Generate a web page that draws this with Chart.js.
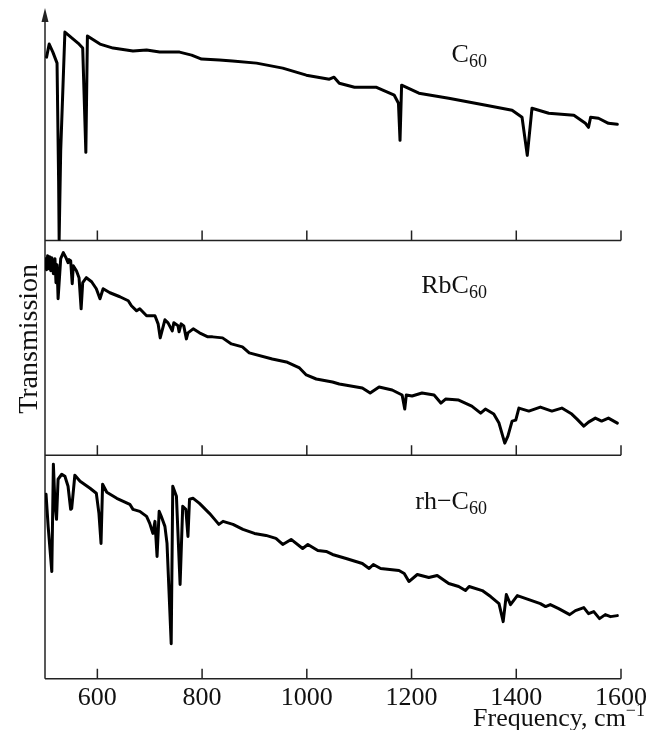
<!DOCTYPE html>
<html>
<head>
<meta charset="utf-8">
<script src="https://cdn.jsdelivr.net/npm/chart.js@4/dist/chart.umd.min.js"></script>
<style>
  html, body { margin: 0; padding: 0; background: #fff; }
  #wrap { width: 647px; height: 730px; }
</style>
</head>
<body>
<div id="wrap"><canvas id="ir" width="647" height="730"></canvas></div>
<script>
// Frequency axis ticks (cm^-1)
const xTicks = [600, 800, 1000, 1200, 1400, 1600];

// IR transmission spectra, arbitrary units above each panel's baseline
const c60Freq = [503, 508, 515, 523, 526, 527, 530, 538, 563, 572, 578, 581, 605, 630, 668, 694, 719, 757, 780, 799, 833, 858, 904, 954, 999, 1043, 1052, 1062, 1091, 1132, 1167, 1175, 1178, 1181, 1214, 1271, 1342, 1392, 1411, 1421, 1430, 1462, 1510, 1532, 1538, 1542, 1557, 1576, 1593];
const c60Trans = [183, 196, 188, 177, 60, 1, 90, 208, 197, 192, 88, 204, 196, 192, 189, 190, 188, 188, 185, 181, 180, 179, 177, 172, 165, 161, 163, 157, 153, 153, 145, 137, 100, 155, 147, 142, 135, 130, 123, 85, 132, 127, 125, 117, 113, 123, 122, 117, 116];

const rbFreq = [501, 503, 505, 507, 509, 511, 513, 516, 519, 521, 523, 525, 530, 535, 540, 544, 546, 549, 552, 554, 560, 565, 569, 572, 579, 589, 598, 605, 611, 624, 643, 659, 665, 675, 681, 694, 710, 716, 720, 729, 735, 743, 746, 754, 756, 760, 765, 770, 773, 783, 795, 811, 820, 839, 856, 877, 890, 934, 961, 986, 999, 1018, 1049, 1062, 1106, 1121, 1138, 1163, 1182, 1187, 1190, 1201, 1220, 1243, 1256, 1265, 1290, 1315, 1332, 1341, 1357, 1367, 1378, 1384, 1392, 1399, 1405, 1424, 1446, 1468, 1487, 1506, 1516, 1529, 1538, 1551, 1563, 1576, 1593];
const rbTrans = [196, 185, 199, 186, 198, 184, 197, 181, 196, 172, 190, 156, 196, 202, 197, 192, 195, 194, 171, 189, 184, 177, 146, 172, 177, 173, 166, 156, 166, 162, 158, 154, 149, 144, 146, 139, 139, 131, 117, 135, 132, 124, 132, 129, 123, 131, 129, 116, 122, 126, 122, 118, 118, 117, 111, 108, 102, 96, 93, 87, 80, 76, 73, 71, 67, 62, 68, 65, 60, 46, 60, 59, 62, 60, 52, 56, 55, 49, 42, 46, 41, 32, 12, 19, 34, 35, 47, 44, 48, 44, 47, 41, 36, 29, 33, 37, 34, 37, 32];

const rhFreq = [502, 506, 513, 516, 519, 522, 525, 532, 538, 544, 549, 551, 557, 567, 586, 598, 603, 607, 610, 618, 637, 662, 668, 681, 694, 700, 706, 710, 714, 718, 722, 729, 733, 741, 744, 751, 758, 763, 769, 773, 776, 783, 795, 814, 824, 832, 840, 859, 878, 900, 922, 941, 954, 970, 992, 1002, 1021, 1037, 1049, 1075, 1106, 1119, 1127, 1141, 1176, 1186, 1195, 1211, 1233, 1249, 1271, 1290, 1303, 1310, 1335, 1351, 1367, 1375, 1381, 1389, 1402, 1424, 1446, 1456, 1465, 1481, 1502, 1513, 1529, 1538, 1548, 1559, 1570, 1580, 1593];
const rhTrans = [184, 152, 107, 214, 175, 159, 199, 204, 202, 192, 169, 170, 203, 197, 190, 185, 165, 135, 194, 186, 180, 174, 169, 167, 162, 155, 145, 157, 122, 167, 162, 152, 135, 35, 192, 182, 94, 172, 169, 142, 179, 180, 175, 165, 159, 154, 157, 154, 149, 145, 143, 140, 134, 139, 130, 134, 128, 127, 124, 120, 115, 110, 114, 110, 108, 105, 97, 104, 101, 103, 95, 92, 88, 92, 88, 82, 75, 57, 84, 74, 83, 79, 75, 72, 74, 70, 64, 68, 71, 65, 67, 60, 64, 62, 63];

// Sample names: main text + subscript
const sampleNames = [["C", "60"], ["RbC", "60"], ["rh\u2212C", "60"]];

const SERIF = '"Liberation Serif", "Times New Roman", serif';
const INK = '#111';

const pairs = (fx, fy) => fx.map((f, i) => ({ x: f, y: fy[i] }));

function subText(ctx, main, sub, xRight, yBase, size) {
  ctx.font = size + 'px ' + SERIF;
  const wm = ctx.measureText(main).width;
  ctx.font = Math.round(size * 0.7) + 'px ' + SERIF;
  const ws = ctx.measureText(sub).width;
  const x0 = xRight - wm - ws;
  ctx.font = size + 'px ' + SERIF;
  ctx.fillText(main, x0, yBase);
  ctx.font = Math.round(size * 0.7) + 'px ' + SERIF;
  ctx.fillText(sub, x0 + wm, yBase + 5);
}

const framePlugin = {
  id: 'frame',
  beforeDatasetsDraw(chart) {
    const ctx = chart.ctx;
    const x = chart.scales.x;
    const x0 = x.getPixelForValue(500);
    const x1 = x.getPixelForValue(1600);
    ctx.save();
    ctx.strokeStyle = '#222';
    ctx.fillStyle = '#222';
    ctx.lineWidth = 1.5;
    // panel baselines with inward ticks
    ['yTop', 'yMid', 'yBot'].forEach(id => {
      const yb = chart.scales[id].bottom;
      ctx.beginPath();
      ctx.moveTo(x0, yb);
      ctx.lineTo(x1, yb);
      xTicks.forEach(t => {
        const px = x.getPixelForValue(t);
        ctx.moveTo(px, yb);
        ctx.lineTo(px, yb - 10);
      });
      ctx.stroke();
    });
    // vertical axis with arrow head
    const yTopPx = chart.scales.yTop.top - 9;
    ctx.beginPath();
    ctx.moveTo(x0, chart.scales.yBot.bottom);
    ctx.lineTo(x0, yTopPx + 10);
    ctx.stroke();
    ctx.beginPath();
    ctx.moveTo(x0, yTopPx);
    ctx.lineTo(x0 - 3.5, yTopPx + 14);
    ctx.lineTo(x0 + 3.5, yTopPx + 14);
    ctx.closePath();
    ctx.fill();
    ctx.restore();
  },
  afterDraw(chart) {
    const ctx = chart.ctx;
    const x = chart.scales.x;
    ctx.save();
    ctx.fillStyle = INK;
    ctx.textAlign = 'left';
    ctx.textBaseline = 'alphabetic';
    // sample names, anchored in data coordinates of each panel
    const anchors = [['yTop', 178], ['yMid', 162], ['yBot', 169]];
    anchors.forEach(([id, v], i) => {
      const px = x.getPixelForValue(1344);
      const py = chart.scales[id].getPixelForValue(v);
      subText(ctx, sampleNames[i][0], sampleNames[i][1], px, py, 26);
    });
    // frequency axis title with superscript
    ctx.font = '18px ' + SERIF;
    const sup = '\u22121';
    const ws = ctx.measureText(sup).width;
    ctx.font = '26px ' + SERIF;
    const main = 'Frequency, cm';
    const wm = ctx.measureText(main).width;
    const right = 645;
    const base = 726;
    ctx.fillText(main, right - ws - wm, base);
    ctx.font = '18px ' + SERIF;
    ctx.fillText(sup, right - ws, base - 10);
    // vertical title
    ctx.translate(37, chart.scales.yMid.getPixelForValue(116));
    ctx.rotate(-Math.PI / 2);
    ctx.font = '28px ' + SERIF;
    ctx.textAlign = 'center';
    ctx.fillText('Transmission', 0, 0);
    ctx.restore();
  }
};

const lineStyle = {
  borderColor: '#000',
  borderWidth: 3,
  pointRadius: 0,
  tension: 0,
  borderJoinStyle: 'round',
  borderCapStyle: 'round',
  fill: false
};

new Chart(document.getElementById('ir'), {
  type: 'line',
  data: {
    datasets: [
      Object.assign({ label: 'C60', data: pairs(c60Freq, c60Trans), yAxisID: 'yTop' }, lineStyle),
      Object.assign({ label: 'RbC60', data: pairs(rbFreq, rbTrans), yAxisID: 'yMid' }, lineStyle),
      Object.assign({ label: 'rh-C60', data: pairs(rhFreq, rhTrans), yAxisID: 'yBot' }, lineStyle)
    ]
  },
  options: {
    responsive: false,
    devicePixelRatio: 1,
    animation: false,
    layout: { padding: { left: 45, right: 26, top: 17, bottom: 12 } },
    plugins: { legend: { display: false }, tooltip: { enabled: false } },
    scales: {
      x: {
        type: 'linear',
        min: 500,
        max: 1600,
        afterBuildTicks: s => { s.ticks = xTicks.map(v => ({ value: v })); },
        afterFit: s => { s.paddingLeft = 0; s.paddingRight = 0; },
        grid: { display: false, drawTicks: false },
        border: { display: false },
        ticks: {
          autoSkip: false,
          maxRotation: 0,
          padding: 4,
          color: INK,
          font: { family: SERIF, size: 26 },
          callback: v => String(v)
        }
      },
      yTop: { type: 'linear', position: 'left', display: false, min: 0, max: 223, stack: 'spectra', stackWeight: 223, weight: 3 },
      yMid: { type: 'linear', position: 'left', display: false, min: 0, max: 214, stack: 'spectra', stackWeight: 214, weight: 2 },
      yBot: { type: 'linear', position: 'left', display: false, min: 0, max: 223, stack: 'spectra', stackWeight: 223, weight: 1 }
    }
  },
  plugins: [framePlugin]
});
</script>
</body>
</html>
